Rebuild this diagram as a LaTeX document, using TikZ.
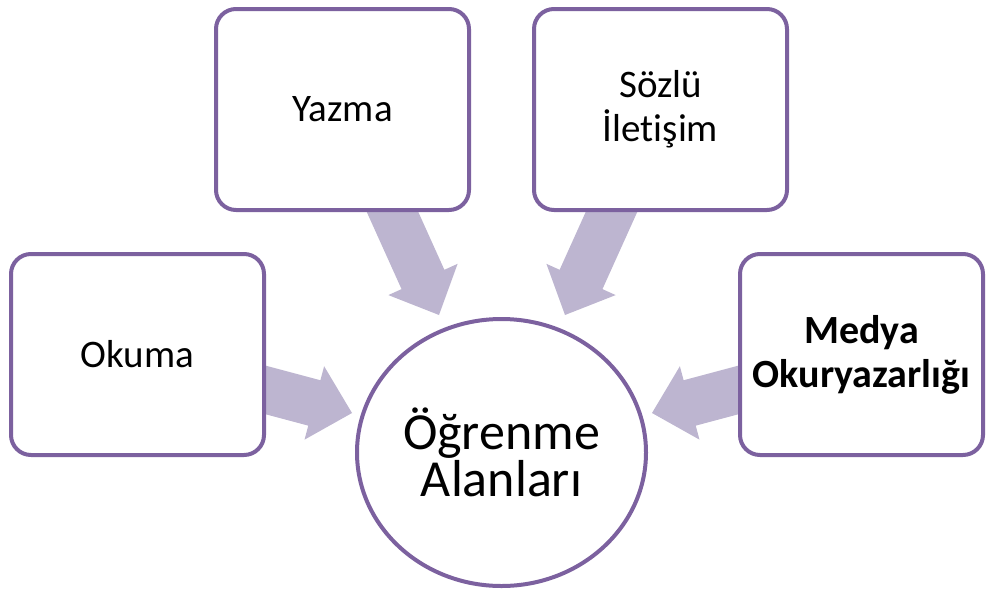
\documentclass[tikz,border=0pt]{standalone}
\usepackage{fontspec}
\setmainfont{Carlito}[Ligatures=NoCommon]
\usetikzlibrary{calc,shapes.geometric}
\definecolor{bord}{HTML}{7C619F}
\definecolor{arrc}{HTML}{BDB5D0}
\pgfdeclarelayer{background}
\pgfsetlayers{background,main}
\newcommand\blockarrow[2]{%
  \coordinate (hb) at ($(#2)!39pt!(#1)$);
  \fill[arrc] ($(#1)!23.5pt!90:(#2)$) -- ($(hb)!23.5pt!-90:(#1)$) -- ($(hb)!38pt!-90:(#1)$) -- (#2)
    -- ($(hb)!38pt!90:(#1)$) -- ($(hb)!23.5pt!90:(#1)$) -- ($(#1)!23.5pt!-90:(#2)$) -- cycle;}
\begin{document}
\begin{tikzpicture}[x=1pt,y=-1pt,
  box/.style={draw=bord, line width=4pt, rounded corners=20pt, fill=white,
    minimum height=201pt, minimum width=253pt, inner sep=0pt, align=center,
    font=\fontsize{39}{44}\selectfont},
  hub/.style={ellipse, draw=bord, line width=4pt, fill=white, minimum width=289pt,
    minimum height=267pt, inner sep=0pt, align=center, font=\fontsize{52}{47}\selectfont}]
\useasboundingbox (0,0) rectangle (987,589);
\node[box] (okuma) at (137.5,354.5) {Okuma};
\node[box] (yazma) at (342.5,109.5) {Yazma};
\node[box] (sozlu) at (660.5,109.5) {Sözlü\\İlet\kern0pt işim};
\node[box, minimum width=243pt, font=\fontsize{40}{44}\selectfont\bfseries] (medya) at (861.5,354.5) {Medya\\Okuryazarlığı};
\node[hub] (hub) at (501.5,452.5) {Öğrenme\\Alanları};
\coordinate (s1) at (250.5,385.9); \coordinate (t1) at (352,413);
\coordinate (s2) at (386.4,198.4); \coordinate (t2) at (439,315);
\coordinate (s3) at (617.6,198.4); \coordinate (t3) at (565,315);
\coordinate (s4) at (753.5,385.9); \coordinate (t4) at (652,413);
\begin{pgfonlayer}{background}
\blockarrow{s1}{t1}
\blockarrow{s2}{t2}
\blockarrow{s3}{t3}
\blockarrow{s4}{t4}
\end{pgfonlayer}
\end{tikzpicture}
\end{document}
